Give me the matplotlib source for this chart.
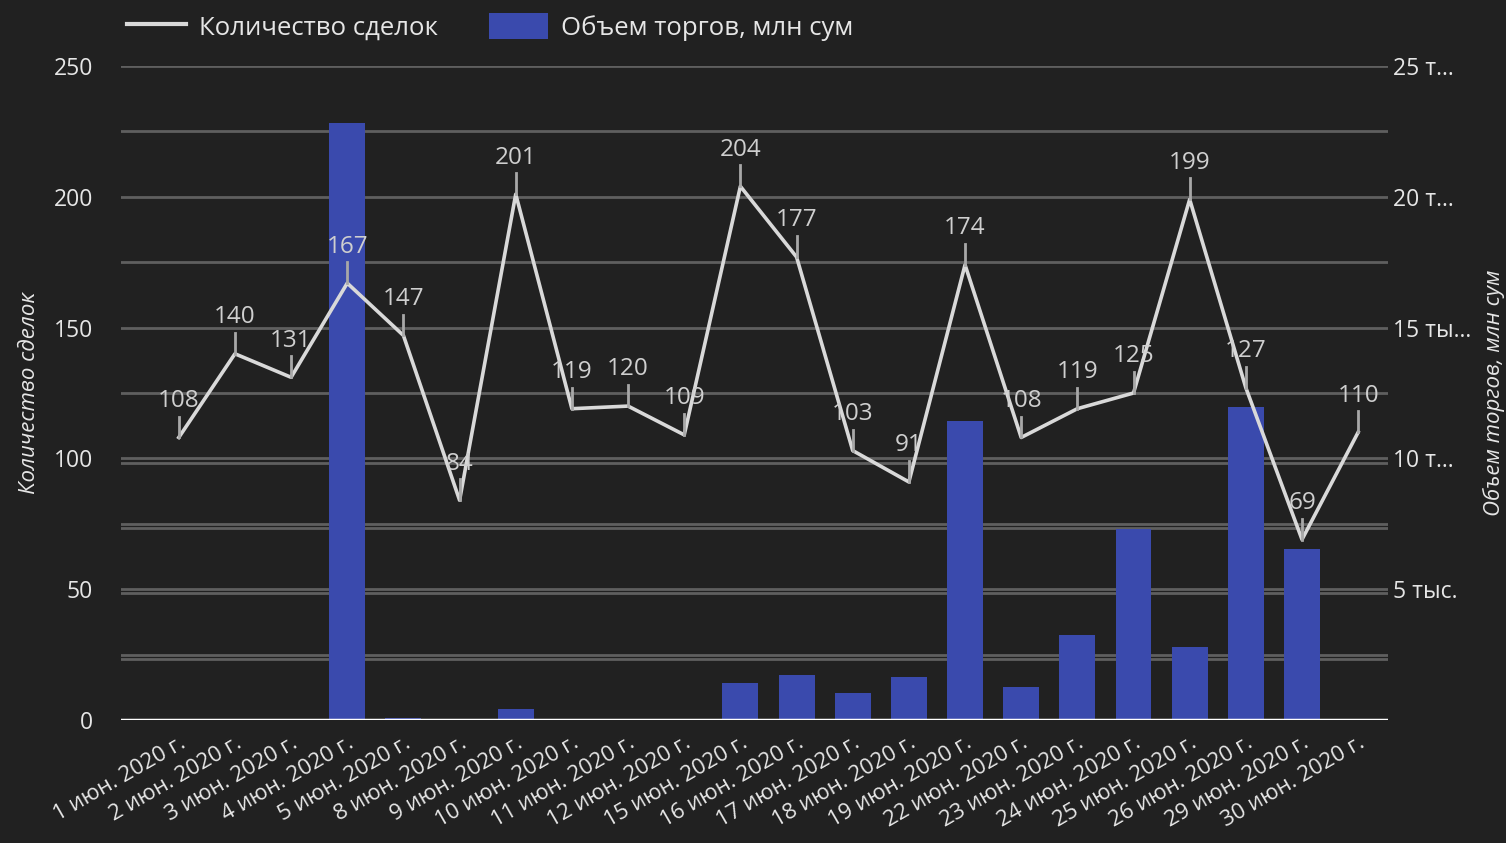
import numpy as np
import matplotlib
matplotlib.use("Agg")
import matplotlib.pyplot as plt
from matplotlib.lines import Line2D
from matplotlib.patches import Patch

dates = ["1 июн. 2020 г.", "2 июн. 2020 г.", "3 июн. 2020 г.", "4 июн. 2020 г.",
         "5 июн. 2020 г.", "8 июн. 2020 г.", "9 июн. 2020 г.", "10 июн. 2020 г.",
         "11 июн. 2020 г.", "12 июн. 2020 г.", "15 июн. 2020 г.", "16 июн. 2020 г.",
         "17 июн. 2020 г.", "18 июн. 2020 г.", "19 июн. 2020 г.", "22 июн. 2020 г.",
         "23 июн. 2020 г.", "24 июн. 2020 г.", "25 июн. 2020 г.", "26 июн. 2020 г.",
         "29 июн. 2020 г.", "30 июн. 2020 г."]
deals = [108, 140, 131, 167, 147, 84, 201, 119, 120, 109, 204, 177, 103, 91,
         174, 108, 119, 125, 199, 127, 69, 110]
volume = [0, 0, 0, 22820, 80, 0, 420, 0, 0, 0, 1410, 1720, 1030, 1640,
          11430, 1260, 3250, 7300, 2790, 11960, 6540, 0]

left_ticks = [0, 50, 100, 150, 200, 250]
right_ticks = [5000, 10000, 15000, 20000, 25000]
right_labels = ["5 тыс.", "10 т...", "15 ты...", "20 т...", "25 т..."]

bg = "#212121"
txt = "#e6e6e6"
grid_c = "#5f5f5f"
bar_c = "#3a4aad"
line_c = "#d9d9d9"

plt.rcParams["font.family"] = ["Open Sans", "DejaVu Sans"]

fig = plt.figure(figsize=(15.06, 8.43), dpi=100, facecolor=bg)
ax = fig.add_axes([0.0803, 0.1459, 0.8413, 0.7758])
ax.set_facecolor("none")
ax2 = ax.twinx()
ax.set_zorder(ax2.get_zorder() + 1)

x = np.arange(len(dates))

# gridlines (left scale + slightly shifted right scale lines)
for v in range(25, 251, 25):
    ax2.axhline(v * 100, color=grid_c, lw=2, zorder=0)
for v in [23.4, 48.4, 73.4, 98.4]:
    ax2.axhline(v * 100, color=grid_c, lw=2, zorder=0)

ax2.bar(x, volume, width=0.64, color=bar_c, zorder=2)
ax2.set_ylim(0, 25000)
ax2.set_yticks(right_ticks)
ax2.set_yticklabels(right_labels)
ax2.tick_params(axis="y", length=0, pad=4, labelsize=16.5, labelcolor=txt)
ax2.set_ylabel("Объем торгов, млн сум", color=txt, fontsize=16, style="italic",
               labelpad=8)

ax.plot(x, deals, color=line_c, lw=2.6, zorder=3, clip_on=False)
for xi, d in zip(x, deals):
    ax.plot([xi, xi], [d, d + 8], color="#a8a8a8", lw=2, zorder=3, clip_on=False)
    ax.text(xi, d + 14, str(d), ha="center", va="center", fontsize=17.5,
            color="#cfcfcf", zorder=4, clip_on=False)

ax.axhline(0, color="white", lw=2.5, zorder=5)
ax.set_ylim(0, 250)
ax.set_xlim(-1.03, 21.53)
ax.set_yticks(left_ticks)
ax.tick_params(axis="y", length=0, pad=20, labelsize=16.5, labelcolor=txt)
ax.set_xticks(x)
ax.set_xticklabels(dates, rotation=30, ha="right", va="top", rotation_mode="anchor")
ax.tick_params(axis="x", length=0, pad=9, labelsize=16, labelcolor=txt)
ax.set_ylabel("Количество сделок", color=txt, fontsize=16, style="italic", labelpad=10)

for a in (ax, ax2):
    for s in a.spines.values():
        s.set_visible(False)

handles = [Line2D([0], [0], color=line_c, lw=3),
           Patch(facecolor=bar_c)]
leg = fig.legend(handles, ["Количество сделок", "Объем торгов, млн сум"],
                 loc="upper left", bbox_to_anchor=(0.069, 1.012), ncol=2,
                 frameon=False, fontsize=18.5, labelcolor=txt, handlelength=2.3,
                 handleheight=1.2, handletextpad=0.5, columnspacing=2.0)

fig.savefig("out.png", dpi=100, facecolor=bg)
